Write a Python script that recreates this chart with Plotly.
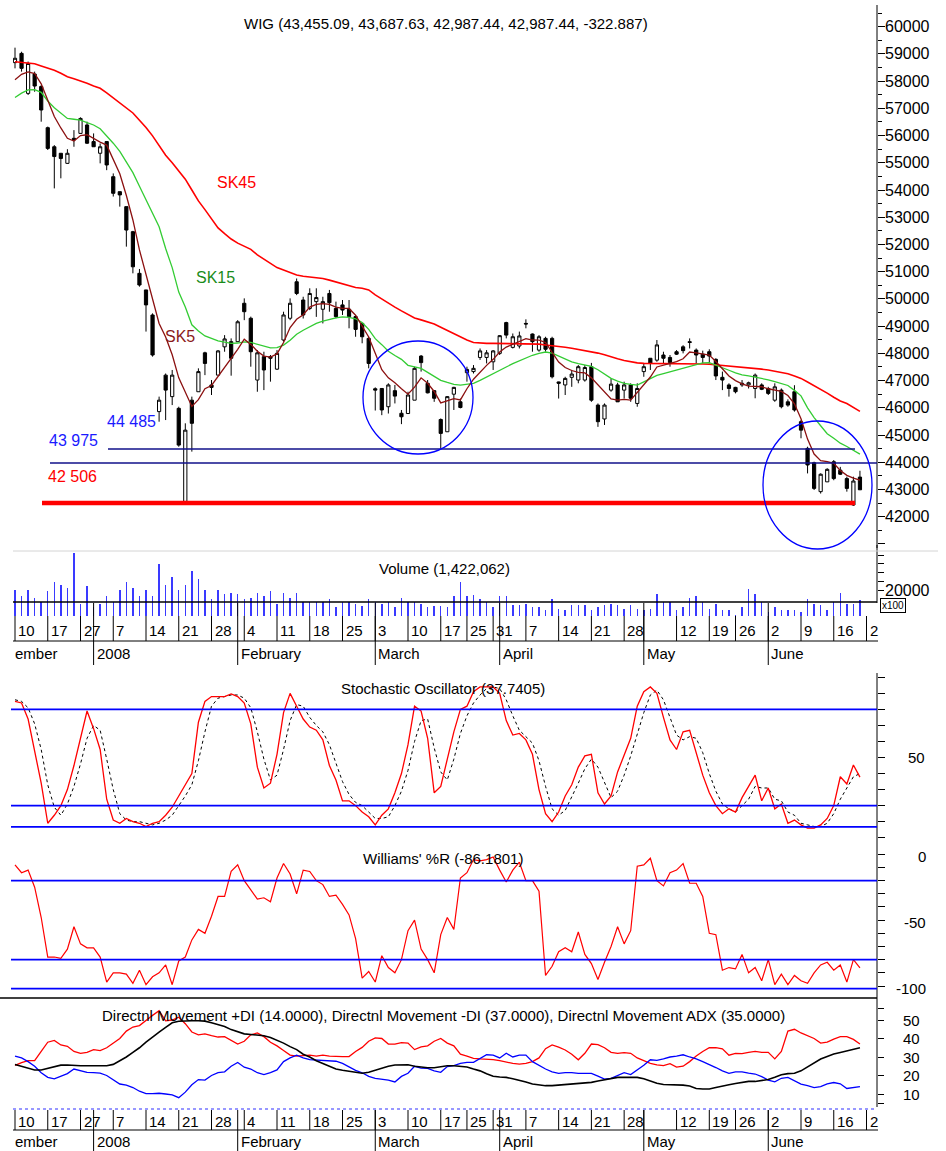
import plotly.graph_objects as go
import pandas as pd

# ---------------- data ----------------
holidays = ["2007-12-24", "2007-12-25", "2007-12-26", "2007-12-31", "2008-01-01",
            "2008-03-21", "2008-03-24", "2008-05-01", "2008-05-02", "2008-05-22"]

opens = [58680, 59020, 57550, 58260, 57800, 56290, 55590, 55350, 54980, 55900,
         56080, 56390, 55780, 55350, 55780, 54490, 53940, 53390, 52470, 50940,
         50330, 49410, 45860, 47200, 46410, 45980, 42560, 46280, 46590, 48020,
         46840, 47200, 48240, 48430, 48430, 49840, 49290, 47020, 47880, 47880,
         47420, 48490, 49290, 50630, 49960, 49650, 49900, 49620, 50200, 49650,
         49780, 49620, 49350, 49100, 48550, 46700, 46710, 46040, 46630, 45800,
         45790, 46280, 47900, 46900, 46630, 45570, 45120, 46500, 46220, 47290,
         47330, 47850, 47850, 47690, 48000, 49130, 48220, 48270, 49100, 48710,
         48120, 48550, 48550, 46950, 46840, 47120, 47020, 47020, 47510, 46100,
         45590, 46650, 46840, 46650, 46840, 46160, 47330, 47820, 47750, 47940,
         47850, 48060, 48240, 48430, 48120, 47970, 48060, 47780, 47120, 46840,
         46750, 46840, 46840, 46710, 46840, 46710, 46280, 46650, 46220, 46590,
         45490, 44510, 43980, 42920, 43280, 44020, 43710, 43400, 42430, 43455.09]
highs = [59230, 59080, 58720, 58350, 57860, 56330, 55650, 55350, 55500, 56200,
         56670, 56510, 56080, 55710, 55780, 54610, 53940, 53390, 52500, 51100,
         50330, 49470, 46410, 47260, 47390, 46040, 45430, 46410, 47450, 48060,
         47020, 48120, 48670, 48550, 49220, 50020, 49350, 48120, 48060, 47940,
         48120, 49530, 50020, 50750, 50080, 50390, 50390, 50080, 50330, 49900,
         49960, 49960, 49410, 49100, 48610, 46750, 46710, 46900, 46840, 45920,
         46590, 47510, 47940, 47020, 46650, 45610, 46430, 46770, 46340, 47510,
         47570, 48180, 48120, 48120, 48670, 49160, 48730, 48800, 49250, 48730,
         48670, 48610, 48610, 46960, 47140, 47390, 47570, 47570, 47650, 46160,
         46160, 47080, 46920, 46960, 46900, 46900, 47630, 47820, 48490, 48060,
         47940, 48120, 48300, 48550, 48180, 48100, 48150, 47820, 47330, 46900,
         46770, 47020, 46960, 47260, 46900, 46770, 46900, 46710, 46310, 46830,
         45550, 44570, 44020, 43590, 43780, 44080, 43830, 43470, 43470, 43687.63]
lows = [58470, 58350, 57490, 57610, 56510, 55470, 54060, 54430, 54960, 55590,
        56080, 55690, 55590, 54980, 54730, 53760, 53390, 51920, 50940, 50450,
        48800, 47880, 45490, 45550, 46100, 44570, 42506, 44390, 46590, 47200,
        46470, 47200, 48060, 47180, 48430, 49220, 47510, 46590, 46650, 46960,
        47390, 48430, 49220, 50140, 49280, 49590, 49340, 49100, 49530, 49290,
        49410, 48920, 48610, 48370, 47450, 45900, 45730, 45790, 46160, 45400,
        45790, 46280, 47330, 46530, 46220, 44500, 45120, 45920, 45980, 46960,
        47260, 47760, 47630, 47390, 47940, 48550, 48180, 48180, 48920, 48060,
        48060, 48060, 47080, 46340, 46470, 46770, 46900, 46960, 46220, 45300,
        45370, 46590, 46220, 46340, 46220, 46040, 47140, 47390, 47690, 47630,
        47510, 47940, 48000, 48180, 47630, 47630, 47630, 47020, 46650, 46410,
        46530, 46770, 46710, 46350, 46650, 46470, 46220, 45980, 46040, 45860,
        44880, 43590, 42980, 42850, 43280, 43340, 43530, 42920, 42400, 42987.44]
closes = [58840, 58470, 58650, 57820, 56940, 55530, 55230, 55160, 55350, 55840,
          56630, 55720, 55590, 55590, 54920, 53880, 53820, 52530, 51180, 50510,
          49780, 47940, 46280, 46650, 47200, 44630, 45180, 45430, 47330, 47630,
          46750, 48090, 48530, 47820, 49160, 49530, 48060, 48020, 47390, 47820,
          48000, 49410, 49840, 50200, 49410, 50200, 50050, 49900, 49860, 49350,
          49590, 49350, 48880, 48610, 47630, 46650, 45920, 46840, 46430, 45670,
          46470, 47450, 47660, 46550, 46350, 45060, 46410, 46750, 46010, 47410,
          47450, 48090, 48020, 48090, 48650, 48670, 48610, 48640, 49080, 48430,
          48610, 48150, 47140, 46900, 47080, 47240, 47510, 47480, 46280, 45490,
          46100, 46870, 46220, 46840, 46350, 46710, 47510, 47630, 48310, 47820,
          47660, 47970, 48100, 48400, 47940, 47850, 47900, 47170, 47020, 46710,
          46590, 46900, 46920, 47200, 46680, 46530, 46770, 46040, 46100, 45920,
          45180, 43900, 43040, 43560, 43740, 43400, 43560, 43040, 43310, 42987.44]
volume = [20000, 16500, 20000, 15500, 13200, 19200, 24600, 22800, 21100, 41000,
          11900, 22100, 10200, 11900, 16500, 12900, 20100, 24600, 21100, 16500,
          20100, 16500, 34700, 22800, 27400, 20100, 22800, 31000, 26500, 20100,
          14600, 20100, 17500, 18200, 17500, 14800, 15500, 18200, 16500, 19200,
          11900, 18200, 15500, 18200, 12900, 12900, 12900, 12900, 14600, 10200,
          12900, 13200, 11900, 10900, 14600, 13200, 11900, 12900, 10200, 15500,
          12900, 13200, 11900, 10200, 10900, 10900, 10200, 16500, 24600, 16800,
          17100, 14800, 12900, 10200, 16500, 16500, 11300, 11300, 11900, 10200,
          10200, 8300, 14800, 9200, 8300, 11300, 11300, 11300, 8300, 10200,
          11300, 11900, 11300, 9200, 11300, 9200, 8700, 9200, 17500, 12900,
          12900, 8300, 10200, 15500, 16500, 12900, 9200, 11900, 8300, 8300,
          5600, 10200, 20400, 17500, 12900, 7500, 10200, 8300, 8300, 8300,
          7500, 14800, 11900, 11300, 8300, 12900, 18200, 11900, 11900, 14221]
sk5 = [58050, 58250, 58340, 58280, 57900, 57280, 56700, 56280, 55900, 55800,
       56000, 56030, 55880, 55760, 55650, 55150, 54600, 53800, 52900, 51800,
       50900, 49900, 49100, 48600, 47950, 47100, 46550, 46050, 46300, 46700,
       46820, 47150, 47500, 47800, 48150, 48520, 48330, 48080, 47900, 47860,
       47980, 48400, 48950, 49250, 49420, 49700, 49800, 49830, 49800, 49700,
       49650, 49650, 49400, 49000, 48600, 48000, 47400, 47100, 46920, 46700,
       46500, 46760, 47100, 46900, 46600, 46180, 46250, 46340, 46290, 46700,
       47050, 47325, 47560, 47780, 48050, 48230, 48330, 48420, 48540, 48490,
       48488, 48400, 48050, 47680, 47480, 47370, 47300, 47280, 47100, 46850,
       46560, 46330, 46280, 46310, 46280, 46560, 46820, 47130, 47500, 47560,
       47631, 47700, 47800, 48050, 48020, 47980, 47937, 47700, 47430, 47170,
       47000, 46880, 46800, 46774, 46774, 46700, 46640, 46600, 46450, 46150,
       45600, 44850, 44300, 44060, 44020, 43960, 43700, 43520, 43420, 43340]
sk15 = [57400, 57560, 57680, 57690, 57590, 57270, 57020, 56820, 56630, 56600,
        56570, 56480, 56390, 56250, 56000, 55720, 55420, 55050, 54640, 54140,
        53640, 53140, 52650, 51850, 51150, 50250, 49700, 49050, 48820, 48640,
        48540, 48460, 48410, 48370, 48380, 48420, 48400, 48330, 48260, 48200,
        48210, 48305, 48480, 48700, 48850, 48980, 49100, 49180, 49250, 49300,
        49340, 49320, 49270, 49130, 48880, 48540, 48320, 48080, 47920, 47780,
        47560, 47510, 47450, 47300, 47150, 47010, 46930, 46860, 46835, 46860,
        46900, 47010, 47140, 47260, 47386, 47500, 47620, 47720, 47830, 47930,
        48000, 48050, 48010, 47900, 47780, 47690, 47620, 47560, 47520, 47400,
        47240, 47080, 46980, 46900, 46860, 46835, 46950, 47080, 47190, 47260,
        47325, 47400, 47470, 47530, 47600, 47650, 47655, 47570, 47480, 47380,
        47280, 47210, 47170, 47130, 47080, 47030, 46960, 46900, 46820, 46640,
        46440, 46000, 45640, 45340, 45050, 44880, 44700, 44580, 44440, 44300]
sk45 = [58715, 58690, 58660, 58640, 58560, 58490, 58400, 58290, 58160, 58090,
        58010, 57920, 57820, 57736, 57570, 57390, 57190, 57000, 56830, 56560,
        56300, 55990, 55650, 55280, 55000, 54700, 54400, 54000, 53600, 53280,
        52940, 52610, 52400, 52200, 52050, 51920, 51820, 51620, 51460, 51300,
        51150, 51060, 50980, 50880, 50830, 50810, 50790, 50750, 50690, 50620,
        50560, 50490, 50420, 50390, 50330, 50150, 49990, 49860, 49700, 49560,
        49430, 49300, 49230, 49160, 49080, 48960, 48840, 48720, 48600, 48490,
        48400, 48370, 48366, 48366, 48366, 48366, 48366, 48366, 48366, 48366,
        48340, 48310, 48290, 48250, 48225, 48190, 48150, 48110, 48060, 48010,
        47950, 47870, 47800, 47740, 47690, 47650, 47631, 47631, 47631, 47631,
        47631, 47631, 47631, 47631, 47620, 47610, 47600, 47580, 47560, 47530,
        47500, 47480, 47460, 47440, 47420, 47390, 47350, 47300, 47250, 47170,
        47080, 46950, 46820, 46680, 46540, 46390, 46250, 46160, 46010, 45870]
stoch_k = [85, 84, 74, 55, 34, 9, 14, 20, 30, 45,
           63, 79, 68, 55, 24, 11, 9, 12, 10, 9,
           7, 9, 10, 14, 19, 26, 33, 40, 72, 85,
           88, 88, 88, 89.6, 88, 84, 71, 44, 31, 34,
           52, 78, 90, 82, 74, 69, 67, 61, 45, 36,
           23, 23, 20, 16, 13, 8, 14, 18, 28, 40,
           58, 82, 79, 62, 28, 32, 49, 66, 80, 82,
           91, 94, 94, 94, 90, 73, 64, 65, 61, 52,
           30, 15, 10, 16, 26, 33, 44, 51, 52, 28,
           21, 26, 41, 51, 62, 82, 91, 94, 90, 75,
           61, 55, 66, 67, 53, 39, 28, 20, 15, 18,
           16, 25, 32, 39, 23, 31, 18, 21, 9, 11,
           8, 6, 6, 8, 12, 20, 38, 33.5, 45.3, 37.7405]
stoch_d = [86, 85, 81, 71, 55, 33, 19, 14, 21, 32,
           46, 62, 70, 67, 49, 30, 15, 11, 10, 10,
           9, 8, 9, 11, 14, 20, 26, 33, 48, 66,
           82, 87, 88, 89, 89, 87, 81, 66, 49, 36,
           39, 55, 73, 83, 82, 75, 70, 66, 58, 47,
           35, 27, 22, 20, 16, 12, 12, 13, 20, 29,
           42, 60, 73, 74, 56, 41, 36, 49, 65, 76,
           84, 89, 93, 94, 93, 86, 76, 67, 63, 59,
           48, 32, 18, 14, 17, 25, 34, 43, 49, 44,
           34, 25, 29, 39, 51, 65, 78, 89, 92, 86,
           75, 64, 61, 63, 62, 53, 40, 29, 21, 18,
           16, 20, 24, 32, 31, 31, 24, 23, 16, 14,
           9, 8, 7, 7, 9, 15, 24, 31, 38, 40]
williams = [-8, -14, -12, -25, -48, -78, -78, -79, -72, -55,
            -68, -71, -71, -78, -97, -90, -90, -91, -98, -88,
            -99, -93, -90, -84, -99, -81, -78, -65, -57, -60,
            -47, -32, -32, -13, -8, -20, -27, -34, -33, -36,
            -18, -7, -15, -30, -12, -13, -20, -23, -32, -31,
            -38, -46, -64, -94, -89, -97, -77, -86, -90, -80,
            -58, -50, -72, -80, -90, -61, -48, -57, -18, -14,
            -4, -5, -4, -2, -12, -21, -12, -6, -20, -20,
            -28, -92, -85, -74, -71, -74, -59, -76, -83, -95,
            -82, -70, -55, -68, -58, -9, -8, -3, -20, -24,
            -14, -12, -7, -22, -22, -32, -60, -61, -88, -86,
            -87, -76, -90, -86, -96, -80, -99, -91, -99, -92,
            -96, -98, -90, -84, -82, -88, -84, -97, -80, -86.1801]
plus_di = [30.5, 29.5, 27.5, 25, 21.5, 19, 18.2, 19.5, 21, 23.5,
           22.5, 21.7, 21.6, 21.3, 20, 17.5, 15.4, 14.8, 13.5, 11.5,
           10.2, 10.2, 10.4, 10, 9.5, 8, 11, 15, 17.8, 17.5,
           20, 21.5, 22, 25, 27, 24.5, 23.5, 21.5, 20.5, 21.5,
           23, 27.5, 29.5, 31, 29.5, 28.6, 28.4, 28, 27.7, 27.7,
           26.5, 24.5, 22.8, 21.5, 19.5, 18.5, 18.2, 17.5, 16.5, 19.5,
           21.2, 25, 24, 23.8, 22.5, 21.7, 24.8, 25.3, 26.5, 27.1,
           27.1, 29, 31.2, 31, 29.5, 32, 30, 31, 31, 27.5,
           25.5, 23.5, 22, 21.2, 21.5, 21.6, 21.2, 21.2, 21.2, 19.7,
           18, 18.5, 20, 21.5, 20.5, 23, 25.5, 28.5, 28.2, 29,
           30, 30.5, 31.2, 30, 29, 27.5, 26, 24.3, 22.5, 21.2,
           22, 22, 21.3, 20.8, 19.4, 17.5, 16.6, 18.5, 19, 17,
           15.3, 14.5, 13.5, 14, 15.5, 16.2, 15.5, 13, 13.6, 14]
minus_di = [25.5, 27, 28, 28, 33, 38, 39, 36.5, 35.8, 33,
            32, 32.5, 34, 33.5, 35, 37.5, 40, 44, 46.2, 47,
            50, 52.5, 55, 49.5, 50, 51.5, 48, 43.5, 42, 42.5,
            41.5, 40.8, 41, 39, 37, 38.5, 42, 43, 41, 38,
            36, 33.5, 31, 30.5, 30.6, 31, 30.5, 31, 30.5, 30.2,
            30.2, 30.2, 33, 35.2, 38.5, 40.3, 40, 37, 37, 37.8,
            37.5, 34, 35.5, 36, 38.5, 40, 37.5, 36, 31.5, 30.5,
            29.3, 29, 28.9, 28.6, 28, 27.2, 26.5, 26.2, 26.5, 27.5,
            29.5, 34.5, 36.5, 35.3, 33.8, 31.5, 28.5, 32, 37, 36.7,
            35, 32.5, 32, 32.4, 32, 29.5, 27.8, 26.5, 25.8, 25.3,
            26.4, 24.5, 25, 27.5, 30.5, 33, 35, 35.1, 34.4, 31,
            32, 31.8, 32.5, 33, 32.5, 32.5, 29, 33, 44, 45,
            43, 41.5, 40, 37.5, 38, 39.7, 41, 41, 39.5, 37]
adx = [26, 25, 24, 23, 23, 23.8, 25, 25.6, 25.7, 25.4,
       25.3, 25.3, 25.3, 25.3, 25.3, 26, 28, 30, 32.5, 35,
       38, 41, 43.5, 46, 48.5, 49.3, 49.6, 49.6, 49.6, 49.4,
       48.5, 47.3, 46.5, 44.8, 43.5, 42.5, 42.2, 42, 41.5, 40.5,
       39.2, 37.5, 35.6, 34, 31.5, 30, 28, 26.5, 25, 23.5,
       22.8, 22.2, 21.6, 21.2, 21.8, 23, 24, 25, 25.7, 25.8,
       25.8, 25, 24.5, 24.2, 24.2, 24.8, 25.3, 25.3, 25, 24.6,
       23.5, 22.5, 21, 19.6, 19.2, 19, 18.2, 17.5, 16.5, 15.4,
       14.8, 14.5, 14.5, 14.8, 15.4, 15.7, 15.7, 16, 16.3, 17,
       17.8, 18.5, 19, 19, 19, 19, 18.2, 17, 15.8, 15.1,
       15.1, 15.1, 14.8, 14.3, 13, 12.7, 12.7, 13.5, 14.4, 15,
       15.7, 16.2, 16.8, 16.8, 17.2, 17.8, 19, 20.4, 21, 21.2,
       22.5, 24.6, 26.8, 28.9, 30.3, 31.6, 32.4, 33.4, 34.3, 35]

week_dates = ["2007-12-10", "2007-12-17", "2007-12-27", "2008-01-07", "2008-01-14",
              "2008-01-21", "2008-01-28", "2008-02-04", "2008-02-11", "2008-02-18",
              "2008-02-25", "2008-03-03", "2008-03-10", "2008-03-17", "2008-03-25",
              "2008-03-31", "2008-04-07", "2008-04-14", "2008-04-21", "2008-04-28",
              "2008-05-05", "2008-05-12", "2008-05-19", "2008-05-26", "2008-06-02",
              "2008-06-09", "2008-06-16", "2008-06-23"]
week_labels = ["10", "17", "27", "7", "14", "21", "28", "4", "11", "18", "25", "3", "10",
               "17", "25", "31", "7", "14", "21", "28", "", "12", "19", "26", "2", "9", "16", "2"]
month_dates = ["2008-01-02", "2008-02-01", "2008-03-03", "2008-04-01", "2008-05-05", "2008-06-02"]
month_labels = ["2008", "February", "March", "April", "May", "June"]

price_ticks = list(range(42000, 60001, 1000))
title_price = "WIG (43,455.09, 43,687.63, 42,987.44, 42,987.44, -322.887)"
title_vol = "Volume (1,422,062)"
title_stoch = "Stochastic Oscillator (37.7405)"
title_will = "Williams' %R (-86.1801)"
title_dmi = ("Directnl Movement +DI (14.0000), Directnl Movement -DI (37.0000), "
             "Directnl Movement ADX (35.0000)")

# ---------------- calendar -> trading-day index ----------------
cal = pd.bdate_range("2007-12-10", "2008-06-23")
cal = cal[~cal.isin(pd.to_datetime(holidays))]
pos = {d.strftime("%Y-%m-%d"): i for i, d in enumerate(cal)}
x = list(range(len(closes)))

# ---------------- geometry helpers ----------------
W, H = 946, 1151
PL, PR = 13, 877
def fx(p):
    return (p - PL) / (PR - PL)
def fy(p):
    return 1 - p / H
X0, X1 = (PL - 15) / 6.55, (PR - 15) / 6.55
FONT = "Liberation Sans, Arial, sans-serif"

fig = go.Figure()
fig.add_trace(go.Candlestick(
    x=x, open=opens, high=highs, low=lows, close=closes,
    increasing=dict(line=dict(color="black", width=1), fillcolor="white"),
    decreasing=dict(line=dict(color="black", width=1), fillcolor="black"),
    whiskerwidth=0, xaxis="x", yaxis="y", showlegend=False, hoverinfo="skip"))
fig.add_trace(go.Scatter(x=x, y=sk45, mode="lines", line=dict(color="#ff0000", width=1.6),
                         xaxis="x", yaxis="y"))
fig.add_trace(go.Scatter(x=x, y=sk15, mode="lines", line=dict(color="#33cc33", width=1.3),
                         xaxis="x", yaxis="y"))
fig.add_trace(go.Scatter(x=x, y=sk5, mode="lines", line=dict(color="#8b1010", width=1.3),
                         xaxis="x", yaxis="y"))
fig.add_trace(go.Bar(x=x, y=volume, width=0.22, marker=dict(color="#3a3aff", line=dict(width=0)),
                     xaxis="x2", yaxis="y2"))
fig.add_trace(go.Scatter(x=x, y=stoch_d, mode="lines", line=dict(color="black", width=1, dash="dot"),
                         xaxis="x3", yaxis="y3"))
fig.add_trace(go.Scatter(x=x, y=stoch_k, mode="lines", line=dict(color="#ff0000", width=1.3),
                         xaxis="x3", yaxis="y3"))
fig.add_trace(go.Scatter(x=x, y=williams, mode="lines", line=dict(color="#ff0000", width=1.2),
                         xaxis="x4", yaxis="y4"))
fig.add_trace(go.Scatter(x=x, y=minus_di, mode="lines", line=dict(color="#ff0000", width=1.3),
                         xaxis="x5", yaxis="y5"))
fig.add_trace(go.Scatter(x=x, y=plus_di, mode="lines", line=dict(color="#0000ff", width=1.3),
                         xaxis="x5", yaxis="y5"))
fig.add_trace(go.Scatter(x=x, y=adx, mode="lines", line=dict(color="black", width=1.6),
                         xaxis="x5", yaxis="y5"))

xcommon = dict(range=[X0, X1], showticklabels=False, showgrid=False, zeroline=False,
               showline=False, ticks="", domain=[0, 1])
ycommon = dict(side="right", showticklabels=False, showgrid=False, zeroline=False,
               showline=False, ticks="outside", tickcolor="black", tickwidth=1)

layout = dict(
    width=W, height=H, margin=dict(l=PL, r=W - PR, t=0, b=0, pad=0),
    paper_bgcolor="white", plot_bgcolor="white", showlegend=False, hovermode=False,
    font=dict(family=FONT, size=15, color="black"),
    xaxis=dict(**xcommon, anchor="y", rangeslider=dict(visible=False)),
    xaxis2=dict(**xcommon, anchor="y2", matches="x"),
    xaxis3=dict(**xcommon, anchor="y3", matches="x"),
    xaxis4=dict(**xcommon, anchor="y4", matches="x"),
    xaxis5=dict(**xcommon, anchor="y5", matches="x"),
    yaxis=dict(**ycommon, anchor="x", domain=[fy(548), fy(5)], range=[40850, 60797],
               ticklen=7, dtick=1000, tick0=0,
               minor=dict(ticks="outside", ticklen=4, dtick=500, tick0=0,
                          tickcolor="black", showgrid=False)),
    yaxis2=dict(**ycommon, anchor="x2", domain=[fy(616), fy(551)], range=[5058, 42413],
                ticklen=6, tickvals=[20000, 25000, 30000, 35000, 40000]),
    yaxis3=dict(**ycommon, anchor="x3", domain=[fy(842), fy(673)], range=[-2.68, 102.7],
                ticklen=7, tickvals=list(range(0, 101, 10))),
    yaxis4=dict(**ycommon, anchor="x4", domain=[fy(997), fy(845)], range=[-108.35, 7.06],
                ticklen=7, tickvals=list(range(-100, 1, 10))),
    yaxis5=dict(**ycommon, anchor="x5", domain=[fy(1108), fy(999)], range=[2.43, 61.35],
                ticklen=6, tickvals=[10, 20, 30, 40, 50],
                minor=dict(ticks="outside", ticklen=6, tickvals=[5, 56], tickcolor="black")),
    bargap=0,
)
fig.update_layout(**layout)

shapes = []
ann = []

def pline(x0, y0, x1, y1, color="black", width=1, dash="solid"):
    shapes.append(dict(type="line", xref="paper", yref="paper", x0=fx(x0), x1=fx(x1),
                       y0=fy(y0), y1=fy(y1), line=dict(color=color, width=width, dash=dash)))

def text(px, py, s, size=15, color="black", anchor="center"):
    ann.append(dict(xref="paper", yref="paper", x=fx(px), y=fy(py), text=s, showarrow=False,
                    xanchor=anchor, yanchor="middle", font=dict(size=size, color=color, family=FONT)))

# axis lines
pline(PR, 5, PR, 548)
pline(PR, 545, PR, 603)
pline(PR, 673, PR, 1107)

# panel separators / rules
pline(PL, 551, 938, 551, color="#d4d4d4", width=1)
pline(PL, 602, PR, 602, color="black", width=1.5)
pline(0, 998, PR, 998, color="black", width=1.5)
pline(PL, 1109, PR, 1109, color="#3030ff", width=1.2, dash="dot")

# price panel support lines
for val, xa, xb, col, wd in [(44485, 108, 855, "#10108a", 1.5), (43975, 50, PR, "#10108a", 1.5),
                             (42506, 42, 855, "#ff0000", 4.5)]:
    shapes.append(dict(type="line", xref="paper", yref="y", x0=fx(xa), x1=fx(xb), y0=val, y1=val,
                       line=dict(color=col, width=wd)))
# circles
shapes.append(dict(type="circle", xref="paper", yref="paper", x0=fx(363), x1=fx(473),
                   y0=fy(454), y1=fy(341), line=dict(color="#0000ff", width=1.3)))
shapes.append(dict(type="circle", xref="paper", yref="paper", x0=fx(763), x1=fx(872),
                   y0=fy(549), y1=fy(421), line=dict(color="#0000ff", width=1.3)))

# oscillator reference lines
for val in [80, 20, 6.7]:
    shapes.append(dict(type="line", xref="paper", yref="y3", x0=fx(PL - 2), x1=1, y0=val, y1=val,
                       line=dict(color="#0000ff", width=1.8)))
for val in [-20, -80, -102]:
    shapes.append(dict(type="line", xref="paper", yref="y4", x0=fx(PL - 2), x1=1, y0=val, y1=val,
                       line=dict(color="#0000ff", width=1.8)))

# date axes (top: below volume, bottom: below DMI)
for (tick_top, tick_bot, lab_y, rule_y, m_top, m_bot, m_lab_y) in [
        (616, 641, 630, 641, 603, 665, 653),
        (1110, 1130, 1121, 1130, 1110, 1151, 1141)]:
    pline(PL, rule_y, PR + 1, rule_y)
    for d, lab in zip(week_dates, week_labels):
        i = pos[d]
        shapes.append(dict(type="line", xref="x", yref="paper", x0=i, x1=i,
                           y0=fy(tick_top), y1=fy(tick_bot), line=dict(color="black", width=1)))
        if lab:
            ann.append(dict(xref="x", yref="paper", x=i, y=fy(lab_y), text=lab, showarrow=False,
                            xanchor="left", yanchor="middle", xshift=1,
                            font=dict(size=15, family=FONT, color="black")))
    for d, lab in zip(month_dates, month_labels):
        i = pos[d]
        shapes.append(dict(type="line", xref="x", yref="paper", x0=i, x1=i,
                           y0=fy(m_top), y1=fy(m_bot), line=dict(color="black", width=1)))
        ann.append(dict(xref="x", yref="paper", x=i, y=fy(m_lab_y), text=lab, showarrow=False,
                        xanchor="left", yanchor="middle", xshift=1,
                        font=dict(size=15, family=FONT, color="black")))
    text(PL, m_lab_y, "ember", anchor="left")

# titles
text(446, 23, title_price)
text(444, 568, title_vol)
text(443, 688, title_stoch)
text(443, 858, title_will)
text(443, 1015, title_dmi)

# MA / level labels
text(236, 182, "SK45", size=16, color="#ff0000")
text(215, 278, "SK15", size=16, color="#1a8c1a")
text(180, 337, "SK5", size=16, color="#8b1a1a")
text(131, 422, "44 485", size=16, color="#1a1aff")
text(73, 440, "43 975", size=16, color="#1a1aff")
text(72, 476, "42 506", size=16, color="#ff0000")

# right-hand axis labels
for v in price_ticks:
    ann.append(dict(xref="paper", yref="y", x=fx(932), y=v, text=str(v), showarrow=False,
                    xanchor="right", yanchor="middle", font=dict(size=16, family=FONT)))
ann.append(dict(xref="paper", yref="y2", x=fx(932), y=20000, text="20000", showarrow=False,
                xanchor="right", yanchor="middle", font=dict(size=16, family=FONT)))
ann.append(dict(xref="paper", yref="paper", x=fx(893), y=fy(605), text="x100", showarrow=False,
                xanchor="center", yanchor="middle", bordercolor="black", borderwidth=1, borderpad=1,
                font=dict(size=10, family=FONT)))
ann.append(dict(xref="paper", yref="y3", x=fx(927), y=50, text="50", showarrow=False,
                xanchor="right", yanchor="middle", font=dict(size=15, family=FONT)))
for v in [0, -50, -100]:
    ann.append(dict(xref="paper", yref="y4", x=fx(928), y=v, text=str(v), showarrow=False,
                    xanchor="right", yanchor="middle", yshift=-2, font=dict(size=15, family=FONT)))
for v in [10, 20, 30, 40, 50]:
    ann.append(dict(xref="paper", yref="y5", x=fx(922), y=v, text=str(v), showarrow=False,
                    xanchor="right", yanchor="middle", font=dict(size=15, family=FONT)))

fig.update_layout(shapes=shapes, annotations=ann)
fig.write_html("out.html", config={"displayModeBar": False, "staticPlot": True},
               post_script="document.body.style.margin='0px';document.body.style.overflow='hidden';")
